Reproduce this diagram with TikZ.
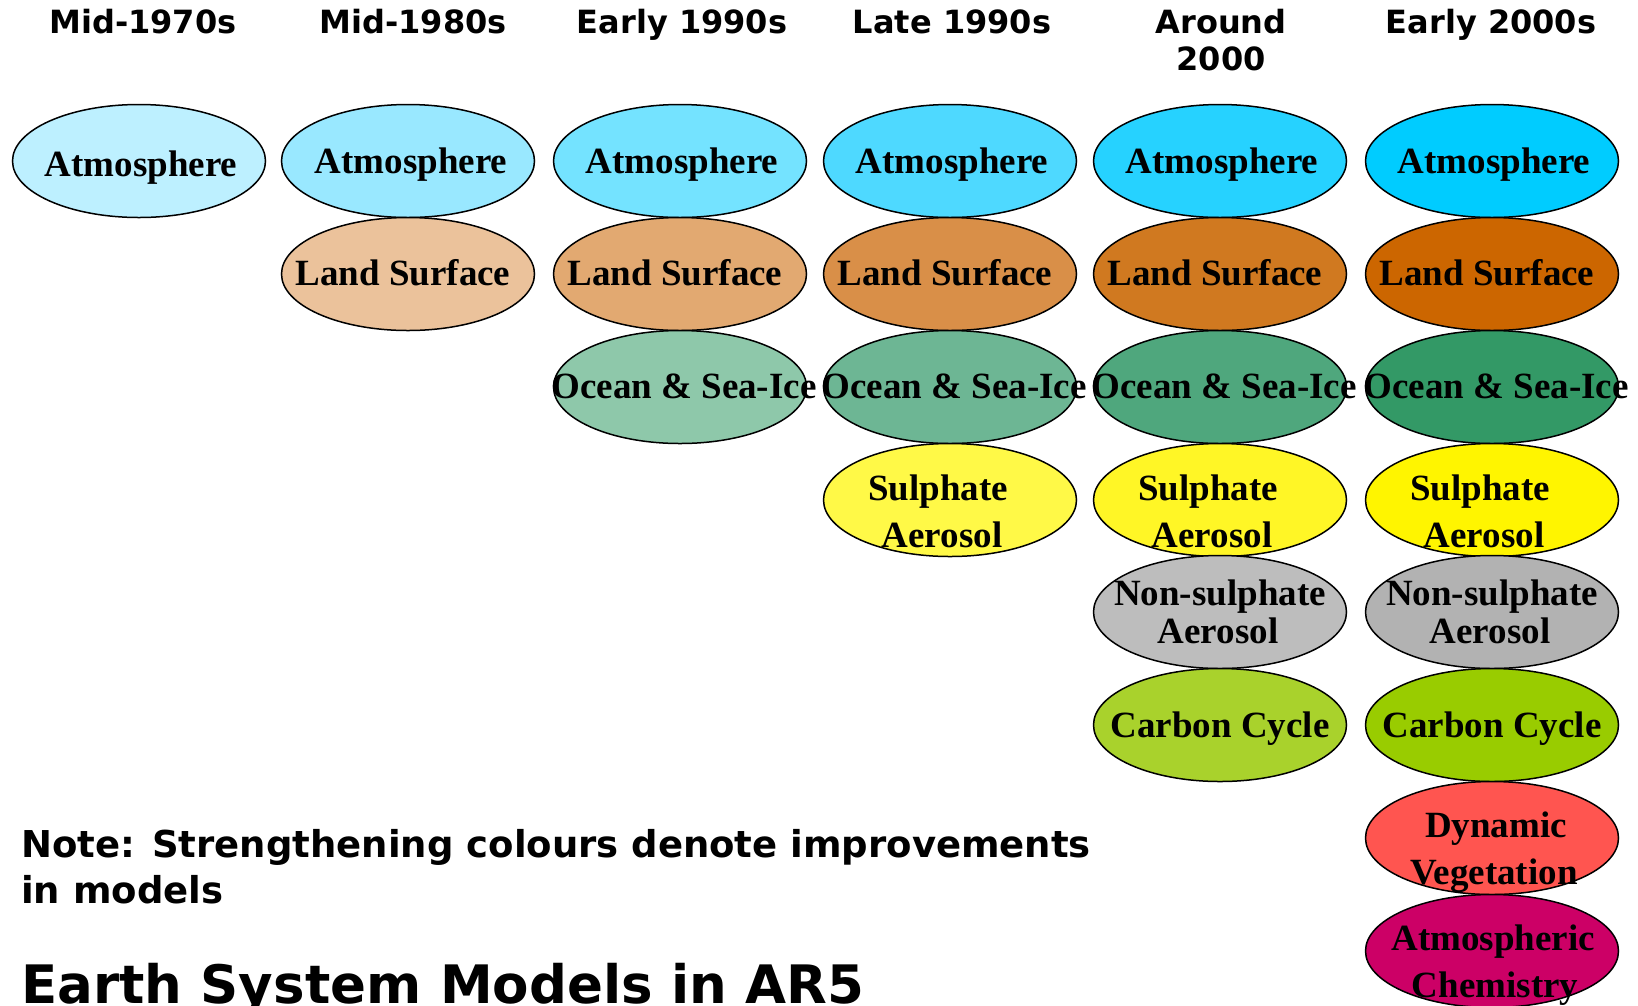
\documentclass[tikz,border=0pt]{standalone}
\usepackage{fontspec}
\setmainfont{Liberation Serif}
\newfontfamily\hdrfont{DejaVu Sans}
\usetikzlibrary{shapes.geometric}
\definecolor{atmA}{HTML}{BDF0FF}
\definecolor{atmB}{HTML}{99E8FF}
\definecolor{atmC}{HTML}{74E3FF}
\definecolor{atmD}{HTML}{4ED9FF}
\definecolor{atmE}{HTML}{26D2FF}
\definecolor{atmF}{HTML}{00CCFF}
\definecolor{lndB}{HTML}{EBC29B}
\definecolor{lndC}{HTML}{E2A971}
\definecolor{lndD}{HTML}{D98F48}
\definecolor{lndE}{HTML}{D07920}
\definecolor{lndF}{HTML}{CC6600}
\definecolor{ocnC}{HTML}{8EC8AA}
\definecolor{ocnD}{HTML}{6DB694}
\definecolor{ocnE}{HTML}{4FA77D}
\definecolor{ocnF}{HTML}{339966}
\definecolor{sulD}{HTML}{FFF947}
\definecolor{sulE}{HTML}{FFF626}
\definecolor{sulF}{HTML}{FFF500}
\definecolor{nsuE}{HTML}{BDBDBD}
\definecolor{nsuF}{HTML}{B2B2B2}
\definecolor{carE}{HTML}{A9D22C}
\definecolor{carF}{HTML}{99CC00}
\definecolor{dynF}{HTML}{FF5550}
\definecolor{chmF}{HTML}{CC0066}
\tikzset{
  blob/.style={ellipse, draw=black, line width=1.5pt, minimum width=253pt, minimum height=113pt, inner sep=0pt},
  lbl/.style={anchor=base, inner sep=0pt, font=\fontsize{37}{40}\selectfont\bfseries},
  hdr/.style={anchor=base, inner sep=0pt, font=\hdrfont\fontsize{32}{37}\selectfont\bfseries},
  note/.style={anchor=base west, inner sep=0pt, font=\hdrfont\fontsize{37}{46}\selectfont\bfseries},
  ttl/.style={anchor=base west, inner sep=0pt, font=\hdrfont\fontsize{53}{60}\selectfont\bfseries}
}
\begin{document}
\begin{tikzpicture}[x=1pt, y=-1pt]
\useasboundingbox[fill=white] (0,0) rectangle (1638,1005);
% headers
\node[hdr] (h1) at (143,33.5) {Mid-1970s};
\node[hdr] (h2) at (413,33.5) {Mid-1980s};
\node[hdr] (h3) at (682,33.5) {Early 1990s};
\node[hdr] (h4) at (952,33.5) {Late 1990s};
\node[hdr] (h5) at (1221,33.5) {Around};
\node[hdr] (h5b) at (1221,70.5) {2000};
\node[hdr] (h6) at (1491,33.5) {Early 2000s};
% ellipses
\node[blob, fill=atmA] (a1) at (139,161) {};
\node[blob, fill=atmB] (a2) at (408,161) {};
\node[blob, fill=atmC] (a3) at (680,161) {};
\node[blob, fill=atmD] (a4) at (950,161) {};
\node[blob, fill=atmE] (a5) at (1220,161) {};
\node[blob, fill=atmF] (a6) at (1492,161) {};
\node[blob, fill=lndB] (l2) at (408,274) {};
\node[blob, fill=lndC] (l3) at (680,274) {};
\node[blob, fill=lndD] (l4) at (950,274) {};
\node[blob, fill=lndE] (l5) at (1220,274) {};
\node[blob, fill=lndF] (l6) at (1492,274) {};
\node[blob, fill=ocnC] (o3) at (680,387) {};
\node[blob, fill=ocnD] (o4) at (950,387) {};
\node[blob, fill=ocnE] (o5) at (1220,387) {};
\node[blob, fill=ocnF] (o6) at (1492,387) {};
\node[blob, fill=sulD] (s4) at (950,500) {};
\node[blob, fill=sulE] (s5) at (1220,500) {};
\node[blob, fill=sulF] (s6) at (1492,500) {};
\node[blob, fill=nsuE] (n5) at (1220,612) {};
\node[blob, fill=nsuF] (n6) at (1492,612) {};
\node[blob, fill=carE] (c5) at (1220,725) {};
\node[blob, fill=carF] (c6) at (1492,725) {};
\node[blob, fill=dynF] (d6) at (1492,838) {};
\node[blob, fill=chmF] (m6) at (1492,951) {};
% labels
\node[lbl] (a1t) at (141,176) {Atmosphere};
\node[lbl] (a2t) at (411,173) {Atmosphere};
\node[lbl] (a3t) at (682,173) {Atmosphere};
\node[lbl] (a4t) at (952,173) {Atmosphere};
\node[lbl] (a5t) at (1222,173) {Atmosphere};
\node[lbl] (a6t) at (1494,173) {Atmosphere};
\node[lbl] (l2t) at (403,285) {Land Surface};
\node[lbl] (l3t) at (675,285) {Land Surface};
\node[lbl] (l4t) at (945,285) {Land Surface};
\node[lbl] (l5t) at (1215,285) {Land Surface};
\node[lbl] (l6t) at (1487,285) {Land Surface};
\node[lbl] (o3t) at (684,398) {Ocean \& Sea-Ice};
\node[lbl] (o4t) at (954,398) {Ocean \& Sea-Ice};
\node[lbl] (o5t) at (1224,398) {Ocean \& Sea-Ice};
\node[lbl] (o6t) at (1496,398) {Ocean \& Sea-Ice};
\node[lbl] (s4t) at (938,500) {Sulphate};
\node[lbl] (s4u) at (942,547) {Aerosol};
\node[lbl] (s5t) at (1208,500) {Sulphate};
\node[lbl] (s5u) at (1212,547) {Aerosol};
\node[lbl] (s6t) at (1480,500) {Sulphate};
\node[lbl] (s6u) at (1484,547) {Aerosol};
\node[lbl] (n5t) at (1220,605) {Non-sulphate};
\node[lbl] (n5u) at (1218,643) {Aerosol};
\node[lbl] (n6t) at (1492,605) {Non-sulphate};
\node[lbl] (n6u) at (1490,643) {Aerosol};
\node[lbl] (c5t) at (1220,737) {Carbon Cycle};
\node[lbl] (c6t) at (1492,737) {Carbon Cycle};
\node[lbl] (d6t) at (1496,837) {Dynamic};
\node[lbl] (d6u) at (1494,884) {Vegetation};
\node[lbl] (m6t) at (1493,950) {Atmospheric};
\node[lbl] (m6u) at (1495,997) {Chemistry};
% note and title
\node[note] (nt) at (21,857) {Note: Strengthening colours denote improvements};
\node[note] (nt2) at (21,903) {in models};
\node[ttl] (tt) at (21,1003) {Earth System Models in AR5};
\end{tikzpicture}
\end{document}
